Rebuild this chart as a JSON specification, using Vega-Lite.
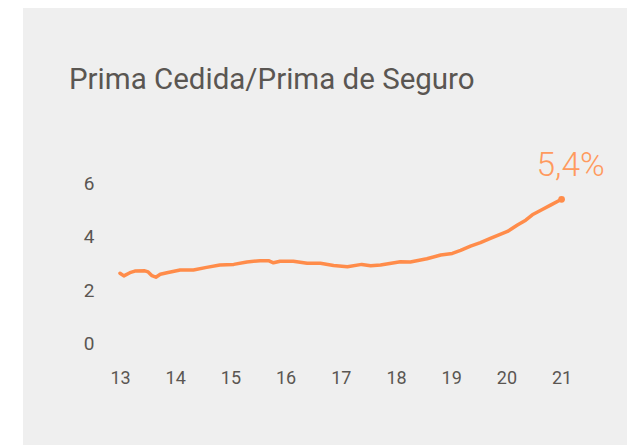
{
  "$schema": "https://vega.github.io/schema/vega-lite/v6.json",
  "width": 604,
  "height": 437,
  "autosize": {"type": "none"},
  "padding": {"left": 23, "top": 8, "right": 8, "bottom": 1},
  "background": "white",
  "config": {"view": {"fill": "#efefef", "stroke": null}, "font": "Roboto"},
  "title": {"text": "Prima Cedida/Prima de Seguro", "anchor": "start", "frame": "group", "orient": "top", "offset": -110, "baseline": "alphabetic", "dx": 46, "fontSize": 29.5, "fontWeight": "normal", "color": "#5a5652", "font": "Roboto"},
  "data": {"values": [
    {"year": 13.00, "value": 2.64},
    {"year": 13.07, "value": 2.54},
    {"year": 13.18, "value": 2.66},
    {"year": 13.27, "value": 2.72},
    {"year": 13.45, "value": 2.73},
    {"year": 13.51, "value": 2.69},
    {"year": 13.58, "value": 2.55},
    {"year": 13.65, "value": 2.49},
    {"year": 13.73, "value": 2.60},
    {"year": 13.85, "value": 2.66},
    {"year": 14.09, "value": 2.76},
    {"year": 14.33, "value": 2.76},
    {"year": 14.57, "value": 2.86},
    {"year": 14.81, "value": 2.95},
    {"year": 15.06, "value": 2.97},
    {"year": 15.30, "value": 3.06},
    {"year": 15.54, "value": 3.11},
    {"year": 15.69, "value": 3.11},
    {"year": 15.78, "value": 3.03},
    {"year": 15.90, "value": 3.09},
    {"year": 16.14, "value": 3.09},
    {"year": 16.39, "value": 3.01},
    {"year": 16.63, "value": 3.01},
    {"year": 16.87, "value": 2.93},
    {"year": 17.12, "value": 2.88},
    {"year": 17.38, "value": 2.97},
    {"year": 17.54, "value": 2.92},
    {"year": 17.72, "value": 2.95},
    {"year": 18.08, "value": 3.07},
    {"year": 18.26, "value": 3.06},
    {"year": 18.56, "value": 3.18},
    {"year": 18.81, "value": 3.32},
    {"year": 19.02, "value": 3.38},
    {"year": 19.17, "value": 3.49},
    {"year": 19.35, "value": 3.65},
    {"year": 19.53, "value": 3.78},
    {"year": 19.71, "value": 3.94},
    {"year": 20.02, "value": 4.20},
    {"year": 20.20, "value": 4.44},
    {"year": 20.35, "value": 4.62},
    {"year": 20.47, "value": 4.82},
    {"year": 20.65, "value": 5.02},
    {"year": 20.80, "value": 5.18},
    {"year": 21.00, "value": 5.40, "label": "5,4%"}
  ]},
  "encoding": {
    "x": {"field": "year", "type": "quantitative",
      "scale": {"domain": [11.243, 22.185], "nice": false, "zero": false},
      "axis": {"values": [13, 14, 15, 16, 17, 18, 19, 20, 21], "format": "d", "title": null, "grid": false, "domain": false, "ticks": false, "tickSize": 0, "labelPadding": 0, "offset": -76, "labelFontSize": 18, "labelColor": "#5a5652", "labelFont": "Roboto", "labelOverlap": false, "labelFlush": false}},
    "y": {"field": "value", "type": "quantitative",
      "scale": {"domain": [-3.769, 12.537], "nice": false, "zero": false},
      "axis": {"values": [0, 2, 4, 6], "title": null, "grid": false, "domain": false, "ticks": false, "tickSize": 0, "labelPadding": 0, "offset": -71, "labelFontSize": 19, "labelColor": "#5a5652", "labelFont": "Roboto", "labelOverlap": false, "labelFlush": false}}
  },
  "layer": [
    {"mark": {"type": "line", "color": "#ff8c4a", "strokeWidth": 3.5, "strokeCap": "round", "strokeJoin": "round"}},
    {"transform": [{"filter": "datum.year == 21"}],
     "mark": {"type": "point", "filled": true, "size": 45, "color": "#ff8c4a", "opacity": 1}},
    {"transform": [{"filter": "datum.year == 21"}],
     "mark": {"type": "text", "align": "center", "baseline": "alphabetic", "dx": 9, "dy": -23, "fontSize": 33.5, "fontWeight": 300, "color": "#ff9a5e", "font": "Roboto"},
     "encoding": {"text": {"field": "label"}}}
  ]
}
